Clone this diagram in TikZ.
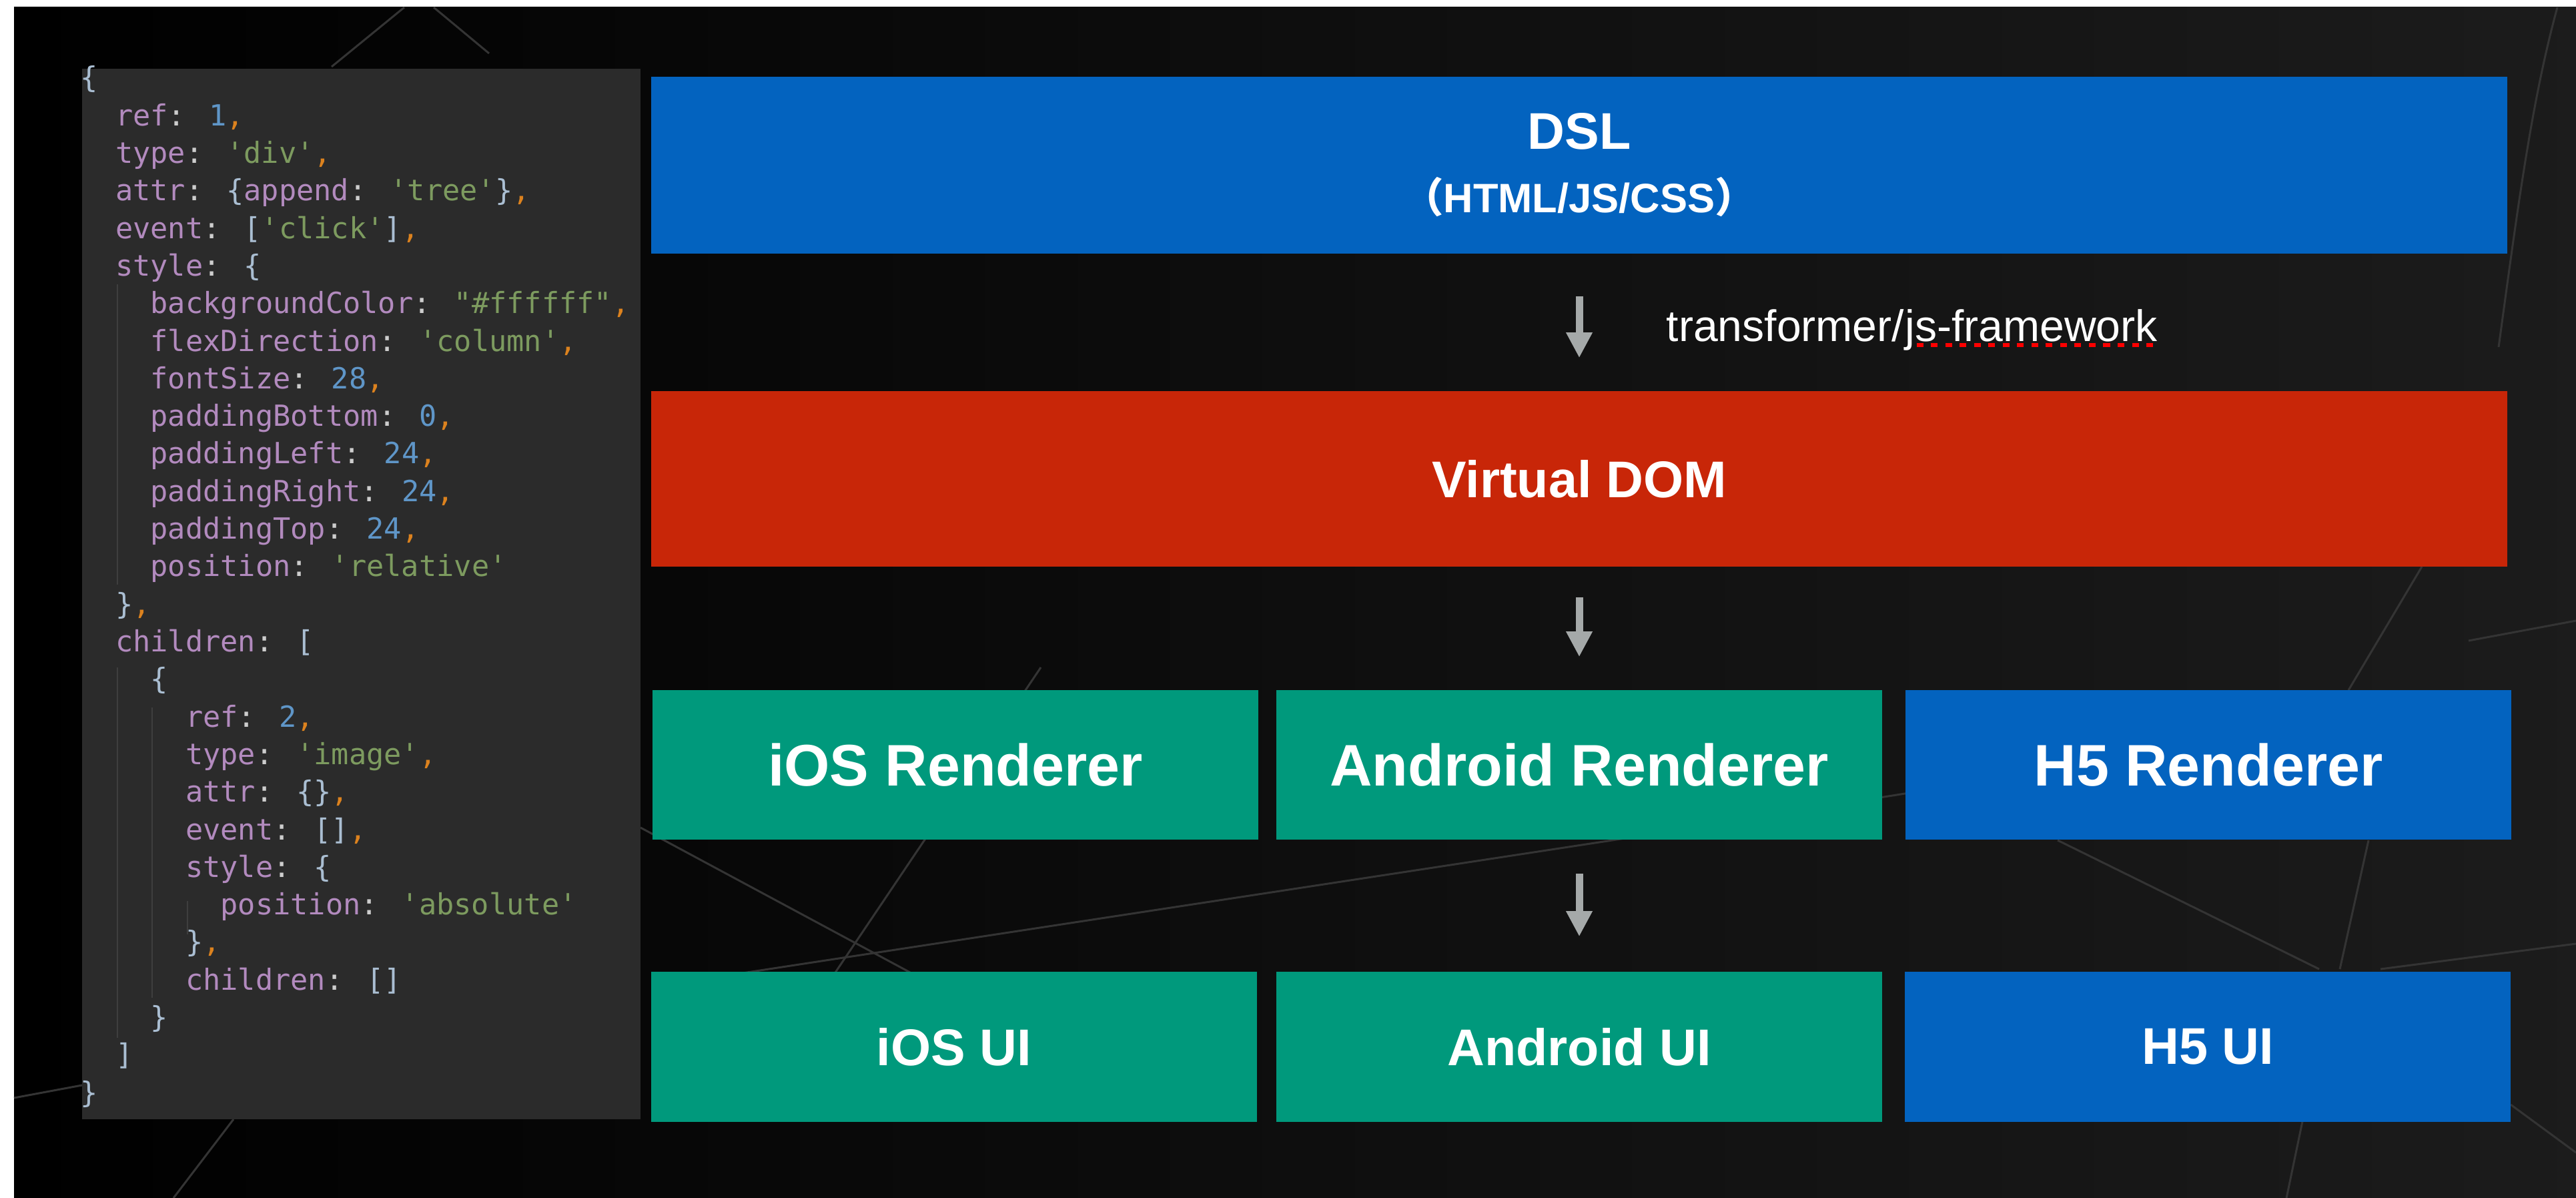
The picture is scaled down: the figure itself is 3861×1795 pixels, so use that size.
\documentclass[tikz,border=0pt]{standalone}
\usepackage{fontspec}
\setmainfont{Liberation Sans}
\newfontfamily\codefont{DejaVu Sans Mono}
\newfontfamily\cjkfont{Noto Sans CJK SC}
\usetikzlibrary{arrows.meta}

\definecolor{dslblue}{RGB}{3,99,191}
\definecolor{vdomred}{RGB}{200,38,8}
\definecolor{nativegreen}{RGB}{0,153,124}
\definecolor{panelgray}{RGB}{43,43,43}
\definecolor{guidegray}{RGB}{62,62,62}
\definecolor{arrowgray}{RGB}{165,169,169}
\definecolor{polyline}{RGB}{52,52,52}
\definecolor{bgright}{RGB}{28,28,28}
\definecolor{jsonkey}{RGB}{178,138,190}
\definecolor{jsonstr}{RGB}{125,155,95}
\definecolor{jsonnum}{RGB}{95,150,200}
\definecolor{jsoncomma}{RGB}{220,130,30}
\definecolor{jsonbr}{RGB}{170,190,210}
\definecolor{jsoncolon}{RGB}{205,205,205}

% json token colours
\newcommand{\jkey}[1]{\textcolor{jsonkey}{#1}\textcolor{jsoncolon}{:}\space}
\newcommand{\jsq}[1]{\textcolor{jsonstr}{\textquotesingle#1\textquotesingle}}
\newcommand{\jdq}[1]{\textcolor{jsonstr}{\textquotedbl#1\textquotedbl}}
\newcommand{\jnum}[1]{\textcolor{jsonnum}{#1}}
\newcommand{\jbr}[1]{\textcolor{jsonbr}{#1}}
\newcommand{\jcomma}{\textcolor{jsoncomma}{,}}
\newcommand{\lvl}[1]{\hspace*{#1\dimexpr 1.204em\relax}}

\begin{document}
\begin{tikzpicture}[x=0.01cm, y=-0.01cm,
    layerbox/.style={rectangle, fill=#1, text=white, inner sep=0pt},
    rowrender/.style={minimum width=9.08cm, minimum height=2.24cm,
        font=\bfseries\fontsize{25pt}{30pt}\selectfont},
    rowui/.style={minimum width=9.08cm, minimum height=2.25cm,
        font=\bfseries\fontsize{22pt}{26pt}\selectfont},
    flowarrow/.style={draw=arrowgray, line width=0.11cm,
        -{Triangle[width=0.37cm, length=0.38cm]}},
    codetext/.style={anchor=base west, inner sep=0pt,
        font=\codefont\fontsize{12.4pt}{15pt}\selectfont},
    guide/.style={draw=guidegray, line width=0.02cm},
    polyedge/.style={draw=polyline, line width=0.03cm},
    tftext/.style={anchor=base west, inner sep=0pt, text=white,
        font=\fontsize{18.8pt}{22pt}\selectfont}]

    \useasboundingbox (0,0) rectangle (3861,1795);
    \clip (0,0) rectangle (3861,1795);

    % Page and dark background
    \fill[white] (0,0) rectangle (3861,1795);
    \shade[left color=black, right color=bgright] (21,11) rectangle (3900,1840);

    % Faint low-poly edges
    \foreach \xa/\ya/\xb/\yb in {21/1645/123/1626, 350/1677/260/1795,
        960/1240/1500/1530, 1560/1000/1250/1460, 1100/1460/2410/1260,
        2410/1260/3100/1150, 3084/1259/3476/1452, 3550/1259/3507/1452,
        3568/1452/3861/1414, 3451/1680/3427/1795, 3763/1655/3861/1727,
        497/100/606/11, 733/80/650/11, 3520/1034/3630/849,
        3700/960/3861/930} {
        \draw[polyedge] (\xa,\ya) -- (\xb,\yb);
    }
    \draw[polyedge] (3833,11) .. controls (3795,150) and (3775,300) .. (3745,520);

    % Code panel
    \fill[panelgray] (123,103) rectangle (960,1677);
    \draw[guide] (176,426) -- (176,876);
    \draw[guide] (176,1000) -- (176,1555);
    \draw[guide] (228,1060) -- (228,1495);
    \draw[guide] (281,1350) -- (281,1400);

    \foreach \codeline [count=\i from 0] in {
        {\jbr{\{}},
        {\lvl{1}\jkey{ref}\jnum{1}\jcomma},
        {\lvl{1}\jkey{type}\jsq{div}\jcomma},
        {\lvl{1}\jkey{attr}\jbr{\{}\jkey{append}\jsq{tree}\jbr{\}}\jcomma},
        {\lvl{1}\jkey{event}\jbr{[}\jsq{click}\jbr{]}\jcomma},
        {\lvl{1}\jkey{style}\jbr{\{}},
        {\lvl{2}\jkey{backgroundColor}\jdq{\#ffffff}\jcomma},
        {\lvl{2}\jkey{flexDirection}\jsq{column}\jcomma},
        {\lvl{2}\jkey{fontSize}\jnum{28}\jcomma},
        {\lvl{2}\jkey{paddingBottom}\jnum{0}\jcomma},
        {\lvl{2}\jkey{paddingLeft}\jnum{24}\jcomma},
        {\lvl{2}\jkey{paddingRight}\jnum{24}\jcomma},
        {\lvl{2}\jkey{paddingTop}\jnum{24}\jcomma},
        {\lvl{2}\jkey{position}\jsq{relative}},
        {\lvl{1}\jbr{\}}\jcomma},
        {\lvl{1}\jkey{children}\jbr{[}},
        {\lvl{2}\jbr{\{}},
        {\lvl{3}\jkey{ref}\jnum{2}\jcomma},
        {\lvl{3}\jkey{type}\jsq{image}\jcomma},
        {\lvl{3}\jkey{attr}\jbr{\{\}}\jcomma},
        {\lvl{3}\jkey{event}\jbr{[]}\jcomma},
        {\lvl{3}\jkey{style}\jbr{\{}},
        {\lvl{4}\jkey{position}\jsq{absolute}},
        {\lvl{3}\jbr{\}}\jcomma},
        {\lvl{3}\jkey{children}\jbr{[]}},
        {\lvl{2}\jbr{\}}},
        {\lvl{1}\jbr{]}},
        {\jbr{\}}}} {
        \node[codetext] (json\i) at (120,{132+56.3*\i}) {\codeline};
    }

    % Layers
    \node[layerbox=dslblue, minimum width=27.81cm, minimum height=2.65cm,
        align=center, font=\bfseries\fontsize{22pt}{27pt}\selectfont]
        (dsl) at (2367,247.5)
        {DSL\\{\fontsize{17.5pt}{27pt}\selectfont{\cjkfont （}HTML/JS/CSS{\cjkfont ）}}};
    \node[layerbox=vdomred, minimum width=27.8cm, minimum height=2.63cm,
        font=\bfseries\fontsize{22pt}{26pt}\selectfont]
        (vdom) at (2367,717.5) {Virtual DOM};

    \node[layerbox=nativegreen, rowrender] (iosrender) at (1432,1146) {iOS Renderer};
    \node[layerbox=nativegreen, rowrender] (androidrender) at (2367,1146) {Android Renderer};
    \node[layerbox=dslblue, rowrender] (hfiverender) at (3310,1146) {H5 Renderer};

    \node[layerbox=nativegreen, rowui] (iosui) at (1430,1568.5) {iOS UI};
    \node[layerbox=nativegreen, rowui] (androidui) at (2367,1568.5) {Android UI};
    \node[layerbox=dslblue, rowui] (hfiveui) at (3309,1568.5) {H5 UI};

    % Arrows between layers
    \draw[flowarrow, shorten <=0.63cm, shorten >=0.49cm] (dsl) -- (vdom);
    \draw[flowarrow, shorten <=0.45cm, shorten >=0.49cm] (vdom) -- (androidrender);
    \draw[flowarrow, shorten <=0.5cm, shorten >=0.52cm] (androidrender) -- (androidui);

    % Arrow label
    \node[tftext] (tflabel) at (2497,512) {transformer/};
    \node[tftext] (tfjs) at (tflabel.base east) {js-framework};
    \draw[red, line width=0.06cm, dash pattern=on 0.1cm off 0.115cm]
        ([xshift=0.18cm, yshift=-0.05cm]tfjs.base west) -- ([yshift=-0.05cm]tfjs.base east);
\end{tikzpicture}
\end{document}
